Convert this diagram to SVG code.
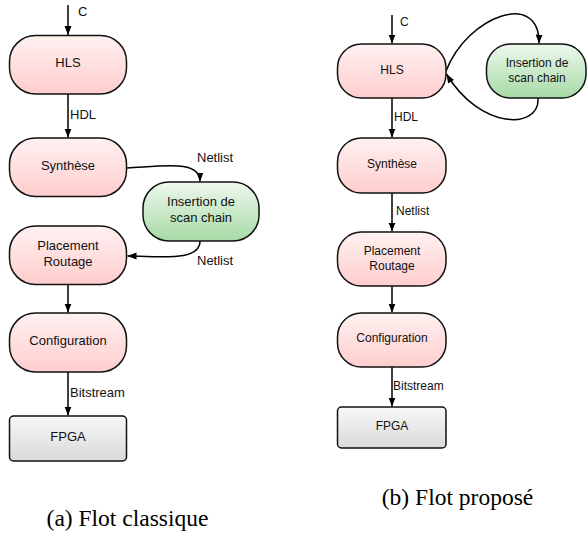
<svg xmlns="http://www.w3.org/2000/svg" width="587" height="533" viewBox="0 0 587 533">
<defs>
<linearGradient id="gPink" x1="0" y1="0" x2="0" y2="1"><stop offset="0" stop-color="#fff1f1"/><stop offset="1" stop-color="#ffcdcd"/></linearGradient>
<linearGradient id="gGreen" x1="0" y1="0" x2="0" y2="1"><stop offset="0" stop-color="#eef8ee"/><stop offset="1" stop-color="#a6daa6"/></linearGradient>
<linearGradient id="gGray" x1="0" y1="0" x2="0" y2="1"><stop offset="0" stop-color="#f8f8f8"/><stop offset="1" stop-color="#d9d9d9"/></linearGradient>
<marker id="arr" markerUnits="userSpaceOnUse" markerWidth="10" markerHeight="8" refX="9" refY="3.5" orient="auto"><path d="M0,0 L9,3.5 L0,7 z" fill="#000"/></marker>
</defs>
<style>
.pink{fill:url(#gPink);stroke:#111;stroke-width:1.5}
.green{fill:url(#gGreen);stroke:#111;stroke-width:1.5}
.gray{fill:url(#gGray);stroke:#111;stroke-width:1.5}
.n{font-family:"Liberation Sans",Arial,sans-serif;fill:#111;text-anchor:middle}
.l{font-family:"Liberation Sans",Arial,sans-serif;fill:#111}
.a13{font-size:13px}
.a12{font-size:12px}
.cap{font-family:"Liberation Serif","Times New Roman",serif;font-size:23.5px;fill:#000;text-anchor:middle}
.e{fill:none;stroke:#000;stroke-width:1.5;marker-end:url(#arr)}
</style>
<g id="connectors">
<path class="e" d="M68,5 L68,35"/>
<path class="e" d="M68,94 L68,137.5"/>
<path class="e" d="M127,168 C165,166 200,160 200,181.5"/>
<path class="e" d="M200,241 C200,262 160,256 127.5,256"/>
<path class="e" d="M68,284.5 L68,312.5"/>
<path class="e" d="M68,372 L68,415.5"/>
<path class="e" d="M392,15 L392,43.5"/>
<path class="e" d="M446,71 C468,15 540,-10 539,43.5"/>
<path class="e" d="M538,98 C540,130 480,130 446.5,74"/>
<path class="e" d="M392,98 L392,137.5"/>
<path class="e" d="M392,193 L392,231.5"/>
<path class="e" d="M392,286 L392,312.5"/>
<path class="e" d="M392,367 L392,406.5"/>
</g>
<g id="edge-labels">
<text class="l a13" x="78" y="16">C</text>
<text class="l a13" x="70" y="119">HDL</text>
<text class="l a13" x="197" y="162">Netlist</text>
<text class="l a13" x="197" y="265">Netlist</text>
<text class="l a13" x="70" y="397">Bitstream</text>
<text class="l a12" x="400" y="26">C</text>
<text class="l a12" x="394" y="121">HDL</text>
<text class="l a12" x="396" y="215">Netlist</text>
<text class="l a12" x="393" y="390">Bitstream</text>
</g>
<g id="a-hls"><rect class="pink" x="9.5" y="35.5" width="117" height="58.5" rx="26"/><text class="n a13" x="68" y="67">HLS</text></g>
<g id="a-synthese"><rect class="pink" x="9.5" y="138" width="117" height="58.5" rx="26"/><text class="n a13" x="68" y="170">Synthèse</text></g>
<g id="a-insertion"><rect class="green" x="143" y="182" width="116" height="59" rx="26"/><text class="n a13" x="201" y="206">Insertion de</text><text class="n a13" x="201" y="222">scan chain</text></g>
<g id="a-placement"><rect class="pink" x="9.5" y="226" width="117" height="58.5" rx="26"/><text class="n a13" x="68" y="250">Placement</text><text class="n a13" x="68" y="266">Routage</text></g>
<g id="a-config"><rect class="pink" x="9.5" y="313" width="117" height="59" rx="26"/><text class="n a13" x="68" y="345">Configuration</text></g>
<g id="a-fpga"><rect class="gray" x="9.5" y="416" width="117" height="45" rx="4"/><text class="n a13" x="68" y="441">FPGA</text></g>
<g id="b-hls"><rect class="pink" x="337.5" y="44" width="108.5" height="54" rx="24"/><text class="n a12" x="392" y="74">HLS</text></g>
<g id="b-insertion"><rect class="green" x="486.5" y="44" width="99.5" height="54" rx="24"/><text class="n a12" x="537" y="67">Insertion de</text><text class="n a12" x="537" y="82">scan chain</text></g>
<g id="b-synthese"><rect class="pink" x="337.5" y="138" width="108.5" height="55" rx="24"/><text class="n a12" x="392" y="168">Synthèse</text></g>
<g id="b-placement"><rect class="pink" x="337.5" y="232" width="108.5" height="54" rx="24"/><text class="n a12" x="392" y="255">Placement</text><text class="n a12" x="392" y="270">Routage</text></g>
<g id="b-config"><rect class="pink" x="337.5" y="313" width="108.5" height="54" rx="24"/><text class="n a12" x="392" y="342">Configuration</text></g>
<g id="b-fpga"><rect class="gray" x="337.5" y="407" width="108.5" height="41" rx="4"/><text class="n a12" x="392" y="430">FPGA</text></g>
<g id="captions">
<text class="cap" x="127.5" y="526">(a) Flot classique</text>
<text class="cap" x="457.5" y="505">(b) Flot proposé</text>
</g>
</svg>
